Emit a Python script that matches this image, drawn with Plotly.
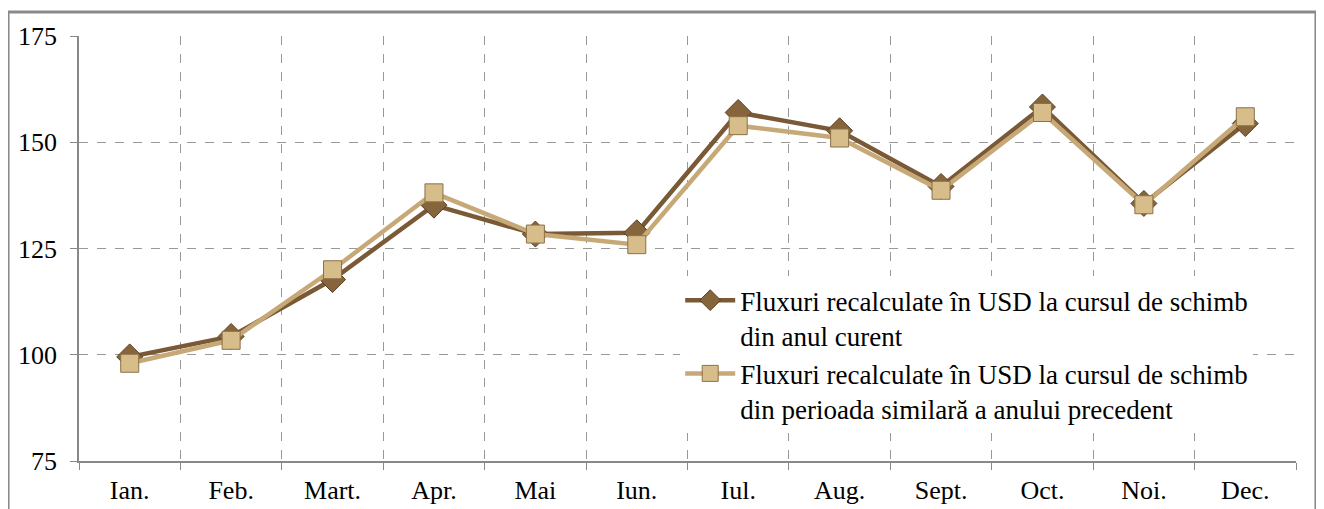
import plotly.graph_objects as go

months = ["Ian.", "Feb.", "Mart.", "Apr.", "Mai", "Iun.", "Iul.", "Aug.", "Sept.", "Oct.", "Noi.", "Dec."]
curent = [99.5, 104.3, 117.7, 135.2, 128.4, 128.7, 157.0, 152.7, 139.6, 158.3, 135.6, 154.4]
precedent = [98.0, 103.4, 120.0, 138.1, 128.4, 125.9, 153.9, 151.0, 138.7, 157.0, 135.3, 156.0]
y_ticks = [75, 100, 125, 150, 175]

name1 = "Fluxuri recalculate în USD la cursul de schimb<br>din anul curent"
name2 = "Fluxuri recalculate în USD la cursul de schimb<br>din perioada similară a anului precedent"

SERIF = '"Liberation Serif", "Times New Roman", Times, serif'

fig = go.Figure()
fig.add_trace(go.Scatter(
    x=months, y=curent, name=name1, mode="lines+markers",
    line=dict(color="#7a5a36", width=4.5),
    marker=dict(symbol="diamond", size=20, color="#86643c",
                line=dict(color="#5a3f22", width=1)),
))
fig.add_trace(go.Scatter(
    x=months, y=precedent, name=name2, mode="lines+markers",
    line=dict(color="#c7a978", width=4.5),
    marker=dict(symbol="square", size=18, color="#d6bd89",
                line=dict(color="#8c7048", width=1)),
))

fig.update_layout(
    width=1316, height=501,
    margin=dict(l=71, r=28, t=28, b=48),
    paper_bgcolor="white", plot_bgcolor="white",
    font=dict(family=SERIF, size=26, color="black"),
    showlegend=True,
    legend=dict(
        x=0.494, y=0.435, xanchor="left", yanchor="top",
        bgcolor="white", borderwidth=0,
        font=dict(size=27, family=SERIF, color="black"),
        itemwidth=50, valign="top", tracegroupgap=1,
    ),
    xaxis=dict(
        type="category", tickson="boundaries",
        showline=True, linecolor="#888888", linewidth=1.5,
        ticks="outside", ticklen=7, tickcolor="#888888",
        showgrid=True, gridcolor="#999999", griddash="dash", gridwidth=1,
        ticklabelstandoff=5, range=[-0.5, 11.5], automargin=False,
        tickfont=dict(family=SERIF, size=26, color="black"),
    ),
    yaxis=dict(
        range=[75, 175], tickvals=y_ticks,
        showline=True, linecolor="#888888", linewidth=1.5,
        ticks="outside", ticklen=7, tickcolor="#888888",
        showgrid=True, gridcolor="#999999", griddash="dash", gridwidth=1,
        ticklabelstandoff=8, zeroline=False, automargin=False,
        tickfont=dict(family=SERIF, size=26, color="black"),
    ),
    shapes=[dict(
        type="rect", xref="paper", yref="paper",
        x0=-0.0583, x1=1.0164, y0=-0.3, y1=1.0565,
        line=dict(color="#8a8a8a", width=3), fillcolor="rgba(0,0,0,0)", layer="below",
    )],
)

fig.write_html("out.html")
